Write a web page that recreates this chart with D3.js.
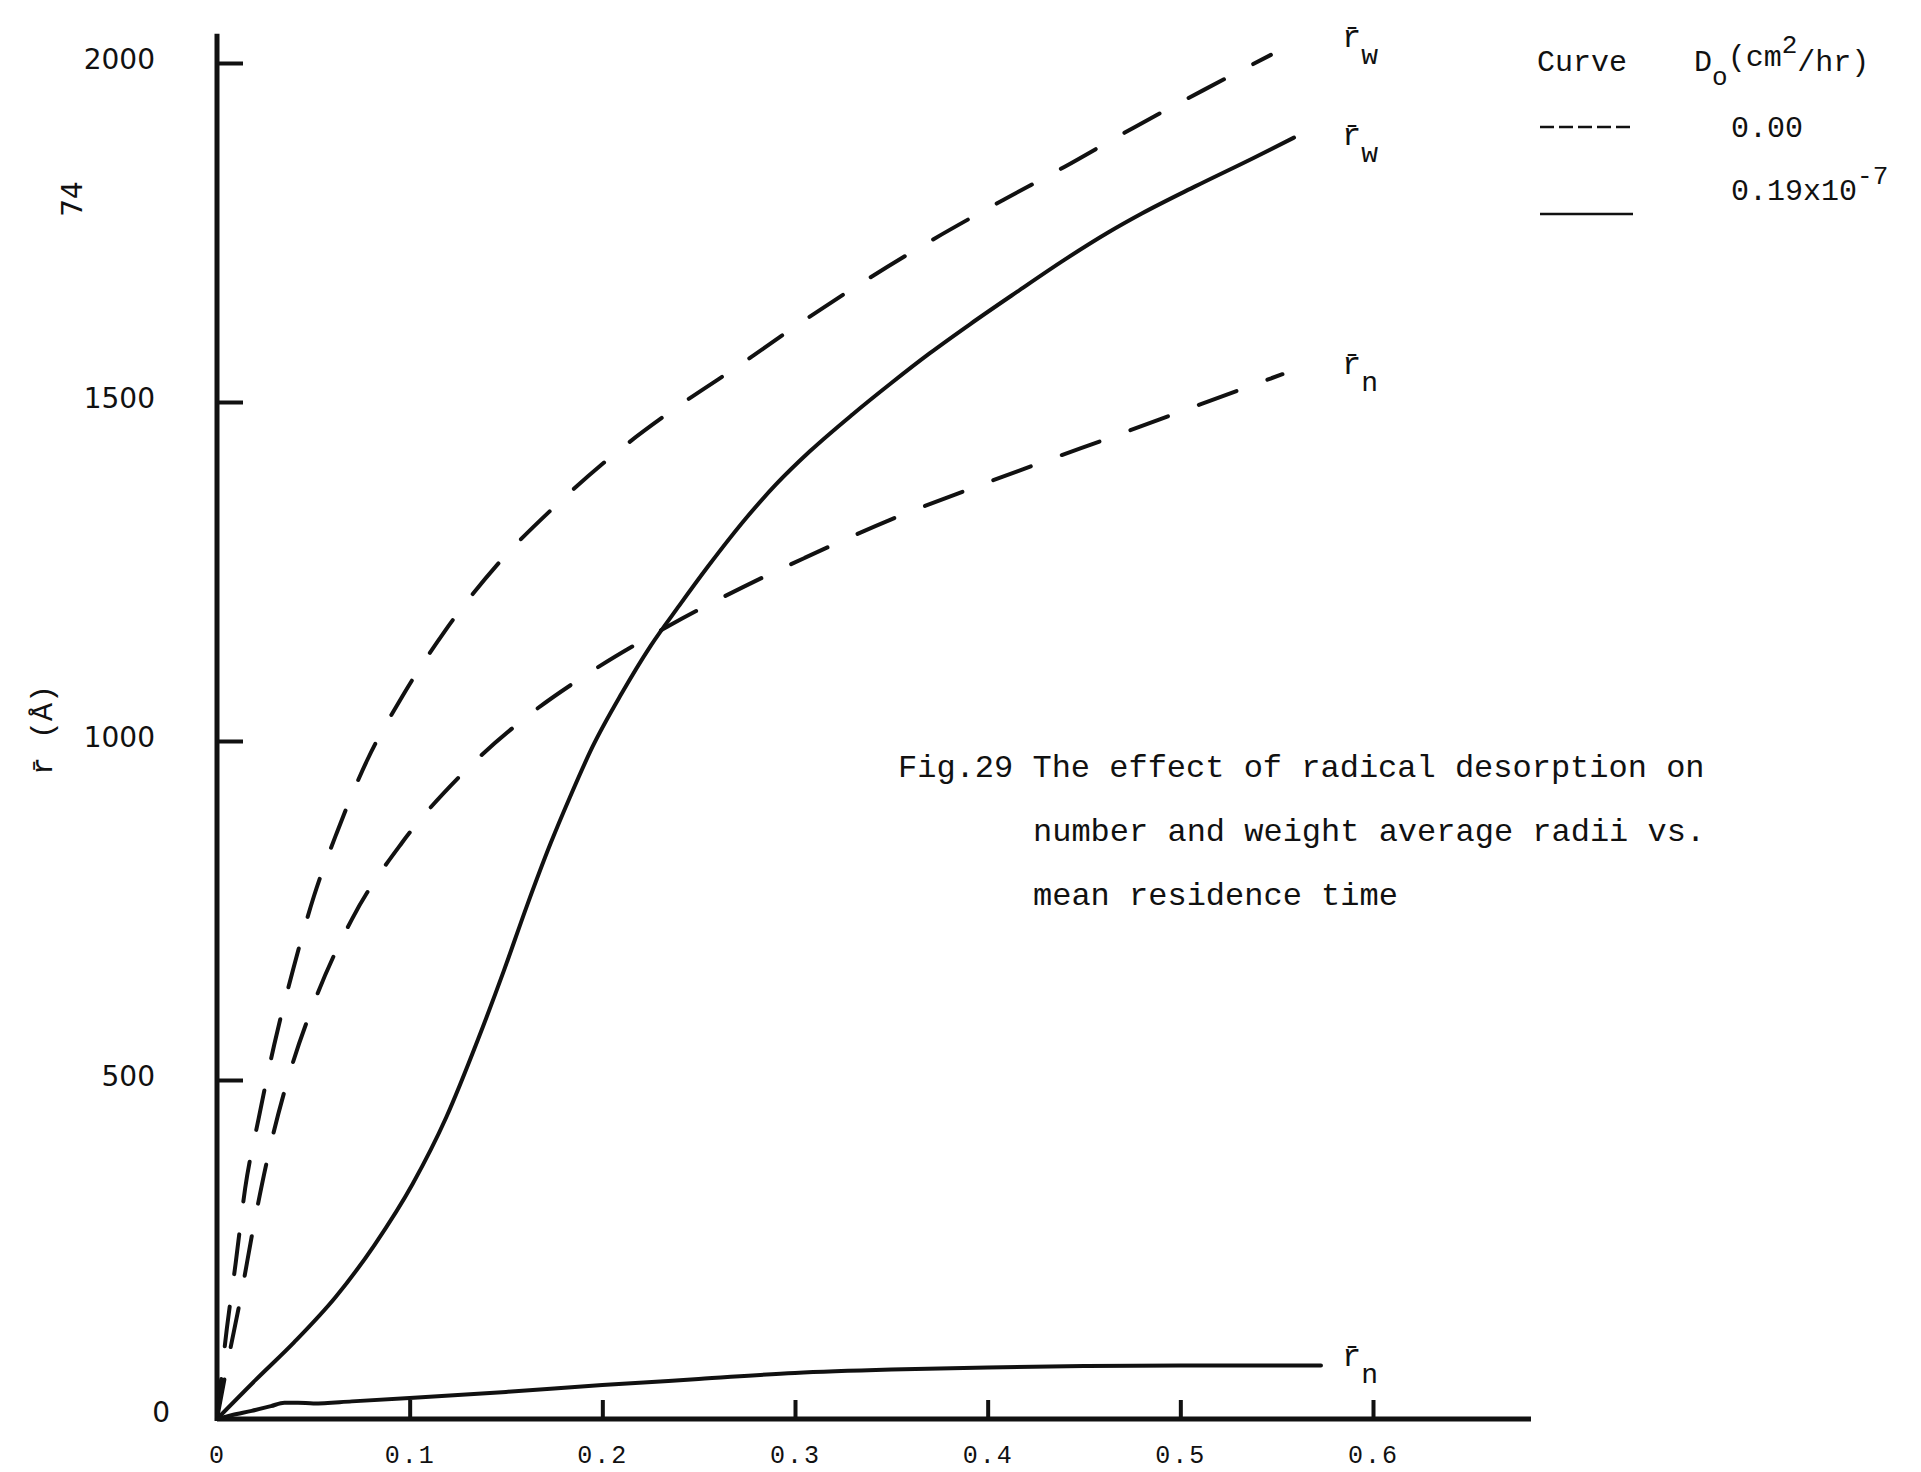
<!DOCTYPE html>
<html><head><meta charset="utf-8">
<script src="https://cdn.jsdelivr.net/npm/d3@7"></script>
<style>
body{margin:0;background:#fff}
svg{display:block;background:#fff}
.mono{font-family:"Liberation Mono","DejaVu Sans Mono",monospace;fill:#111}
.sans{font-family:"DejaVu Sans",Verdana,sans-serif;fill:#111}
</style></head>
<body><svg id="c" width="1921" height="1472"></svg>
<script>
// ---- data (x: mean residence time, y: r-bar in Angstrom) ----
const xTickValues = [0, 0.1, 0.2, 0.3, 0.4, 0.5, 0.6];
const xTickLabels = ["0", "0.1", "0.2", "0.3", "0.4", "0.5", "0.6"];
const yTickValues = [0, 500, 1000, 1500, 2000];
const yTickLabels = ["0", "500", "1000", "1500", "2000"];

// D0 = 0.00 (dashed)
const rwDashed = [[0,0],[0.0051,133],[0.0097,230],[0.0146,340],[0.0216,443],[0.0297,552],[0.0395,663],[0.0503,771],[0.0625,867],[0.078,972],[0.096,1065],[0.118,1161],[0.147,1265],[0.175,1345],[0.207,1425],[0.238,1491],[0.270,1552],[0.302,1615],[0.332,1671],[0.367,1732],[0.403,1790],[0.440,1847],[0.476,1905],[0.512,1960],[0.547,2012]];
const rnDashed = [[0,0],[0.0057,86],[0.012,175],[0.0194,290],[0.027,394],[0.0374,507],[0.0509,618],[0.070,737],[0.096,850],[0.1267,950],[0.1577,1029],[0.194,1102],[0.2346,1170],[0.273,1227],[0.305,1270],[0.350,1327],[0.392,1373],[0.429,1412],[0.468,1452],[0.505,1491],[0.553,1541]];
// D0 = 0.19x10^-7 (solid)
const rwSolid = [[0,0],[0.0202,58],[0.040,113],[0.0619,181],[0.0818,257],[0.1016,347],[0.119,445],[0.1355,560],[0.149,662],[0.161,758],[0.173,848],[0.183,916],[0.195,992],[0.210,1070],[0.225,1140],[0.240,1200],[0.255,1258],[0.275,1330],[0.290,1378],[0.308,1428],[0.330,1482],[0.350,1528],[0.370,1572],[0.391,1615],[0.415,1662],[0.440,1710],[0.4625,1750],[0.480,1778],[0.5077,1818],[0.538,1860],[0.559,1890]];
const rnSolid = [[0,0],[0.008,6],[0.018,12],[0.028,19],[0.035,24],[0.042,24],[0.05,23],[0.07,26],[0.1,31],[0.15,40],[0.2,50],[0.25,59],[0.3,68],[0.35,73],[0.4,76],[0.45,78],[0.5,79],[0.573,79]];

const captionLines = ["Fig.29 The effect of radical desorption on", "number and weight average radii vs.", "mean residence time"];

// ---- layout ----
const svg = d3.select("#c");
const x = d3.scaleLinear().domain([0, 0.6]).range([217, 1373]);
const y = d3.scaleLinear().domain([0, 2000]).range([1419, 63]);

// axes
const xAxis = d3.axisBottom(x).tickValues(xTickValues)
  .tickFormat((d,i)=>xTickLabels[i]).tickSizeInner(-19).tickSizeOuter(0).tickPadding(26);
const gx = svg.append("g").attr("transform", `translate(0,${y(0)})`).call(xAxis);
gx.select(".domain").remove();
gx.selectAll(".tick line").attr("stroke","#111").attr("stroke-width",4);
gx.selectAll(".tick text").attr("class","mono").attr("font-size",25).attr("letter-spacing",2);

const yAxis = d3.axisLeft(y).tickValues(yTickValues)
  .tickFormat((d,i)=>yTickLabels[i]).tickSizeInner(-26).tickSizeOuter(0).tickPadding(62);
const gy = svg.append("g").attr("transform", `translate(${x(0)},0)`).call(yAxis);
gy.select(".domain").remove();
gy.selectAll(".tick line").attr("stroke","#111").attr("stroke-width",4);
gy.selectAll(".tick text").attr("class","sans").attr("font-size",28).attr("dy","0.2em");
gy.selectAll(".tick").filter(d=>d===0).select("line").remove();
gy.selectAll(".tick").filter(d=>d===0).select("text").attr("x",-47).attr("dy","0.1em");

// axis lines
svg.append("line").attr("x1",x(0)).attr("x2",x(0.682)).attr("y1",y(0)).attr("y2",y(0))
  .attr("stroke","#111").attr("stroke-width",5);
svg.append("line").attr("x1",x(0)).attr("x2",x(0)).attr("y1",y(0)+2).attr("y2",y(2043))
  .attr("stroke","#111").attr("stroke-width",5);

// curves
const line = d3.line().x(d=>x(d[0])).y(d=>y(d[1])).curve(d3.curveMonotoneX);
function draw(data, dashed){
  svg.append("path").datum(data).attr("d", line).attr("fill","none")
    .attr("stroke","#111").attr("stroke-width",4).attr("stroke-linecap","round")
    .attr("stroke-dasharray", dashed ? "40,33" : null);
}
draw(rwDashed, true);
draw(rnDashed, true);
draw(rwSolid, false);
draw(rnSolid, false);

// curve labels (r-bar with subscript)
function rlabel(px, py, sub){
  const t = svg.append("text").attr("class","mono").attr("x",px).attr("y",py).attr("font-size",32);
  t.append("tspan").text("r\u0304");
  t.append("tspan").attr("dy",17).attr("font-size",28).text(sub);
}
rlabel(1342, 47, "w");
rlabel(1342, 145, "w");
rlabel(1342, 374, "n");
rlabel(1342, 1366, "n");

// legend
svg.append("text").attr("class","mono").attr("x",1537).attr("y",71).attr("font-size",30).text("Curve");
const dh = svg.append("text").attr("class","mono").attr("x",1694).attr("y",71).attr("font-size",30);
dh.append("tspan").text("D");
dh.append("tspan").attr("dy",14).attr("font-size",26).text("o");
dh.append("tspan").attr("dy",-19).text("(cm");
dh.append("tspan").attr("dy",-13).attr("font-size",26).text("2");
dh.append("tspan").attr("dy",18).text("/hr)");
svg.append("line").attr("x1",1540).attr("x2",1632).attr("y1",127).attr("y2",127)
  .attr("stroke","#111").attr("stroke-width",2.5).attr("stroke-dasharray","14,5");
svg.append("text").attr("class","mono").attr("x",1731).attr("y",137).attr("font-size",30).text("0.00");
svg.append("line").attr("x1",1540).attr("x2",1633).attr("y1",214).attr("y2",214)
  .attr("stroke","#111").attr("stroke-width",2.5);
const lv = svg.append("text").attr("class","mono").attr("x",1731).attr("y",200).attr("font-size",30);
lv.append("tspan").text("0.19x10");
lv.append("tspan").attr("dy",-16).attr("font-size",26).text("-7");

// caption
svg.append("text").attr("class","mono").attr("x",898).attr("y",777).attr("font-size",32).text(captionLines[0]);
svg.append("text").attr("class","mono").attr("x",1033).attr("y",841).attr("font-size",32).text(captionLines[1]);
svg.append("text").attr("class","mono").attr("x",1033).attr("y",905).attr("font-size",32).text(captionLines[2]);

// y-axis title and page number
svg.append("text").attr("class","mono").attr("font-size",30)
  .attr("transform","translate(52,730) rotate(-90)").attr("text-anchor","middle").text("r\u0304 (\u00C5)");
svg.append("text").attr("class","sans").attr("font-size",28)
  .attr("transform","translate(82,199) rotate(-90)").attr("text-anchor","middle").text("74");
</script>
</body></html>
